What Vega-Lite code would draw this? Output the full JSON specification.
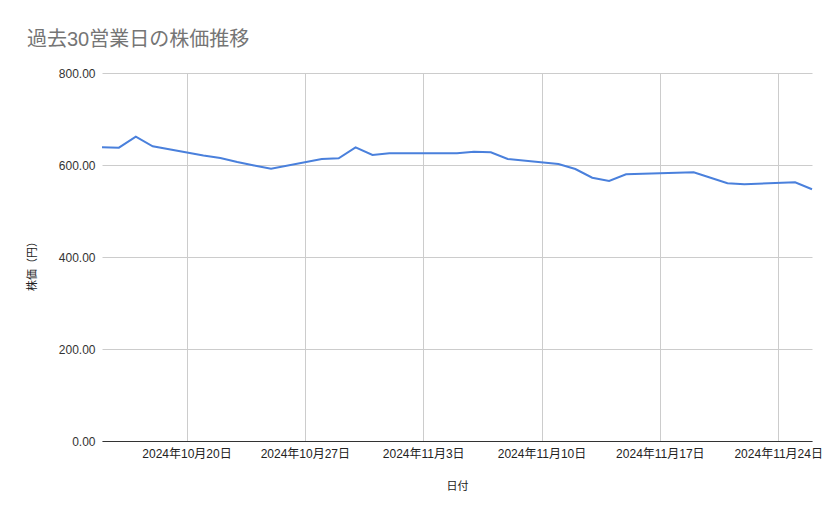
{
  "$schema": "https://vega.github.io/schema/vega-lite/v6.json",
  "width": 710,
  "height": 368,
  "autosize": {"type": "none"},
  "padding": {"left": 102, "top": 73, "right": 27, "bottom": 78},
  "background": "white",
  "title": {
    "text": "過去30営業日の株価推移",
    "anchor": "start",
    "frame": "group",
    "dx": -75,
    "offset": 17,
    "fontSize": 20,
    "fontWeight": "normal",
    "color": "#757575",
    "font": "Liberation Sans, Noto Sans CJK JP"
  },
  "data": {
    "values": [
      {"date": "2024-10-15", "price": 638.5},
      {"date": "2024-10-16", "price": 637.6},
      {"date": "2024-10-17", "price": 661.5},
      {"date": "2024-10-18", "price": 640.7},
      {"date": "2024-10-21", "price": 620.7},
      {"date": "2024-10-22", "price": 615.2},
      {"date": "2024-10-23", "price": 606.5},
      {"date": "2024-10-24", "price": 598.9},
      {"date": "2024-10-25", "price": 592.0},
      {"date": "2024-10-28", "price": 613.0},
      {"date": "2024-10-29", "price": 614.6},
      {"date": "2024-10-30", "price": 638.5},
      {"date": "2024-10-31", "price": 621.7},
      {"date": "2024-11-01", "price": 625.4},
      {"date": "2024-11-05", "price": 625.4},
      {"date": "2024-11-06", "price": 628.9},
      {"date": "2024-11-07", "price": 627.6},
      {"date": "2024-11-08", "price": 613.0},
      {"date": "2024-11-11", "price": 602.2},
      {"date": "2024-11-12", "price": 591.3},
      {"date": "2024-11-13", "price": 572.4},
      {"date": "2024-11-14", "price": 565.2},
      {"date": "2024-11-15", "price": 579.8},
      {"date": "2024-11-18", "price": 583.0},
      {"date": "2024-11-19", "price": 584.1},
      {"date": "2024-11-20", "price": 572.2},
      {"date": "2024-11-21", "price": 560.2},
      {"date": "2024-11-22", "price": 558.0},
      {"date": "2024-11-25", "price": 562.4},
      {"date": "2024-11-26", "price": 547.2}
    ]
  },
  "mark": {"type": "line", "color": "#4a80dc", "strokeWidth": 2, "interpolate": "linear"},
  "encoding": {
    "x": {
      "field": "date",
      "type": "temporal",
      "title": "日付",
      "scale": {
        "type": "utc",
        "domain": [
          {"year": 2024, "month": 10, "date": 15, "utc": true},
          {"year": 2024, "month": 11, "date": 26, "utc": true}
        ]
      },
      "axis": {
        "values": [
          {"year": 2024, "month": 10, "date": 20, "utc": true},
          {"year": 2024, "month": 10, "date": 27, "utc": true},
          {"year": 2024, "month": 11, "date": 3, "utc": true},
          {"year": 2024, "month": 11, "date": 10, "utc": true},
          {"year": 2024, "month": 11, "date": 17, "utc": true},
          {"year": 2024, "month": 11, "date": 24, "utc": true}
        ],
        "labelExpr": "utcFormat(datum.value, '%Y年%-m月%-d日')",
        "labelFont": "Liberation Sans, Noto Sans CJK JP",
        "labelFontSize": 12,
        "labelColor": "#222222",
        "labelPadding": 7,
        "labelOverlap": false,
        "labelFlush": false,
        "ticks": false,
        "grid": true,
        "gridColor": "#cccccc",
        "gridWidth": 1,
        "domain": true,
        "domainColor": "#333333",
        "domainWidth": 1,
        "titleFont": "Liberation Sans, Noto Sans CJK JP",
        "titleFontSize": 11,
        "titleFontWeight": "normal",
        "titleColor": "#222222",
        "titlePadding": 21
      }
    },
    "y": {
      "field": "price",
      "type": "quantitative",
      "title": "株価（円）",
      "scale": {"domain": [0, 800], "nice": false, "zero": true},
      "axis": {
        "values": [0, 200, 400, 600, 800],
        "format": ".2f",
        "labelFont": "Liberation Sans, Noto Sans CJK JP",
        "labelFontSize": 12,
        "labelColor": "#333333",
        "labelPadding": 7,
        "ticks": false,
        "domain": false,
        "grid": true,
        "gridColor": "#cccccc",
        "gridWidth": 1,
        "titleFont": "Liberation Sans, Noto Sans CJK JP",
        "titleFontSize": 11,
        "titleFontWeight": "normal",
        "titleColor": "#222222",
        "titleX": -70,
        "titleY": 190,
        "titleAngle": -90,
        "titleBaseline": "middle",
        "titleAlign": "center"
      }
    }
  },
  "config": {
    "view": {"stroke": null}
  }
}
